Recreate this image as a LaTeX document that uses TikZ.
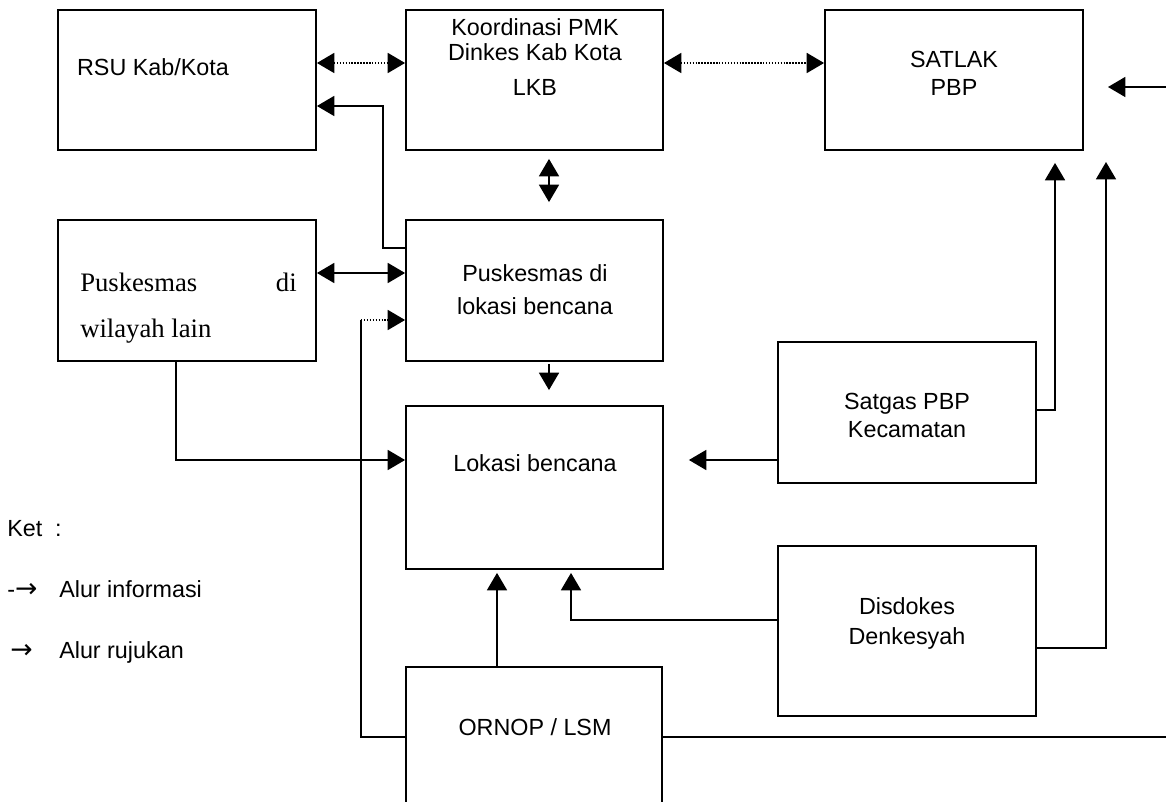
\documentclass[tikz,border=0pt]{standalone}
\usepackage{fontspec}
\setmainfont{Liberation Sans}
\newfontfamily\serifA{Liberation Serif}
\newfontfamily\arrowfont{DejaVu Sans}
\usetikzlibrary{arrows.meta}
\begin{document}
\begin{tikzpicture}[x=0.75pt,y=-0.75pt,
  box/.style={draw,line width=1.4pt,inner sep=0pt,minimum width=193.5pt,minimum height=105pt},
  txt/.style={inner sep=0pt,font=\fontsize{17.5}{20}\selectfont,text height=12.6pt,text depth=0pt},
  stxt/.style={inner sep=0pt,font=\serifA\fontsize{20}{22}\selectfont,anchor=base west},
  conn/.style={line width=1.15pt},
  arr/.style={conn,-{Triangle[length=13pt,width=15pt]}},
  darr/.style={conn,{Triangle[length=13pt,width=15pt]}-{Triangle[length=13pt,width=15pt]}},
  dot/.style={dash pattern=on 1.1pt off 1.1pt}]
\useasboundingbox (0,0) rectangle (1166,802);
\clip (0,0) rectangle (1166,802);
% boxes
\node[box] (rsu) at (187,80) {};
\node[box,minimum width=192.75pt] (koord) at (534.5,80) {};
\node[box] (satlak) at (954,80) {};
\node[box,minimum height=105.75pt] (puskw) at (187,290.5) {};
\node[box,minimum width=192.75pt,minimum height=105.75pt] (puskl) at (534.5,290.5) {};
\node[box,minimum width=192.75pt,minimum height=122.25pt] (lokasi) at (534.5,487.5) {};
\node[box,minimum height=105.75pt] (satgas) at (907,412.5) {};
\node[box,minimum height=127.5pt] (disdokes) at (907,631) {};
\node[box,minimum width=192pt,minimum height=159.75pt] (ornop) at (534,773.5) {};
% texts
\node[txt] (t1) at (153,67) {RSU Kab/Kota};
\node[txt] (t2) at (535,27) {Koordinasi PMK};
\node[txt] (t3) at (535,52) {Dinkes Kab Kota};
\node[txt] (t4) at (535,87) {LKB};
\node[txt] (t5) at (954,59) {SATLAK};
\node[txt] (t6) at (954,87) {PBP};
\node[stxt] (t7) at (80,291) {Puskesmas};
\node[stxt,anchor=base east] (t8) at (297,291) {di};
\node[stxt] (t9) at (80,337) {wilayah lain};
\node[txt] (t10) at (535,273) {Puskesmas di};
\node[txt] (t11) at (535,306) {lokasi bencana};
\node[txt] (t12) at (535,463) {Lokasi bencana};
\node[txt] (t13) at (907,401) {Satgas PBP};
\node[txt] (t14) at (907,429) {Kecamatan};
\node[txt] (t15) at (907,606) {Disdokes};
\node[txt] (t16) at (907,636) {Denkesyah};
\node[txt] (t17) at (535,727) {ORNOP / LSM};
% legend
\node[txt,anchor=west] (k1) at (7,528) {Ket\ \ :};
\node[txt,anchor=west] (k2) at (7,589) {-{\arrowfont\fontsize{20}{22}\selectfont →}};
\node[txt,anchor=west] (k3) at (59,589) {Alur informasi};
\node[txt,anchor=west] (k4) at (10,650) {{\arrowfont\fontsize{20}{22}\selectfont →}};
\node[txt,anchor=west] (k5) at (59,650) {Alur rujukan};
% free coordinates
\coordinate (rin) at (1172,87);
\coordinate (rtip) at (1108,87);
\coordinate (dtip) at (1106,162);
\coordinate (oout) at (1172,737);
% connectors
\draw[darr,dot] (rsu.east |- 0,63) -- (koord.west |- 0,63);
\draw[darr,dot] (koord.east |- 0,63) -- (satlak.west |- 0,63);
\draw[arr] (rin) -- (rtip);
\draw[darr,shorten <=6pt,shorten >=12.75pt] (koord.south -| 549,0) -- (puskl.north -| 549,0);
\draw[arr] (puskl.west |- 0,248) -| (383,106) -- (rsu.east |- 0,106);
\draw[darr] (puskw.east |- 0,273) -- (puskl.west |- 0,273);
\draw[conn] (ornop.west |- 0,737) -| (361,320);
\draw[arr,dot] (361,320) -- (puskl.west |- 0,320);
\draw[arr,shorten <=1.5pt,shorten >=11.25pt] (puskl.south -| 549,0) -- (lokasi.north -| 549,0);
\draw[arr] (puskw.south -| 176,0) |- (lokasi.west |- 0,460);
\draw[arr,shorten >=18.75pt] (satgas.west |- 0,460) -- (lokasi.east |- 0,460);
\draw[arr,shorten >=9pt] (satgas.east |- 0,410) -| (satlak.south -| 1055,0);
\draw[arr] (disdokes.east |- 0,648) -| (dtip);
\draw[arr,shorten >=2.25pt] (disdokes.west |- 0,620) -| (lokasi.south -| 571,0);
\draw[arr,shorten >=2.25pt] (ornop.north -| 497,0) -- (lokasi.south -| 497,0);
\draw[conn] (ornop.east |- 0,737) -- (oout);
\end{tikzpicture}
\end{document}
